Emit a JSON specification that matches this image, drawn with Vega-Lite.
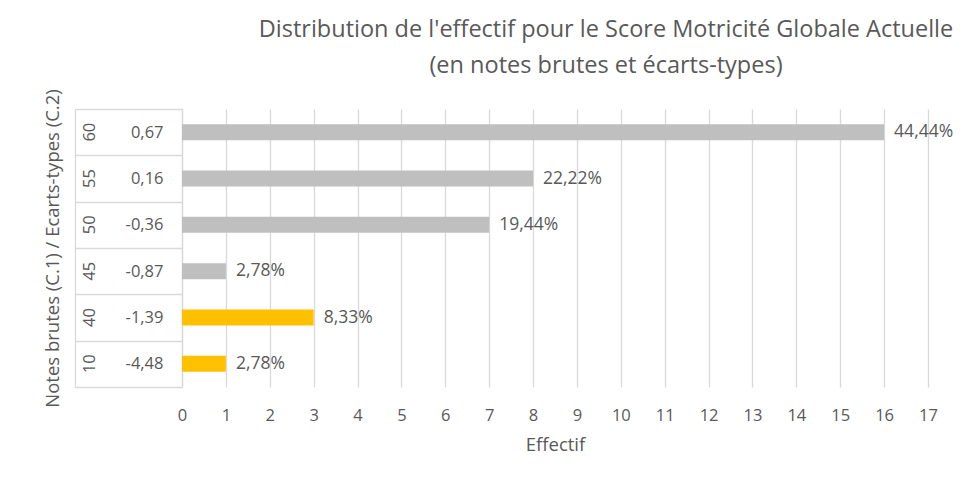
{
  "$schema": "https://vega.github.io/schema/vega-lite/v6.json",
  "width": 746,
  "height": 278,
  "autosize": {"type": "none"},
  "padding": {"left": 182, "top": 109, "right": 32, "bottom": 108},
  "background": "white",
  "title": {
    "text": ["Distribution de l'effectif pour le Score Motricité Globale Actuelle", "(en notes brutes et écarts-types)"],
    "fontSize": 23.5,
    "font": "Open Sans",
    "fontWeight": "normal",
    "color": "#595959",
    "anchor": "middle",
    "dx": 51,
    "offset": 11,
    "lineHeight": 36
  },
  "data": {
    "values": [
      {"note": "60", "ecart": "0,67", "effectif": 16, "pct": "44,44%", "groupe": "normal"},
      {"note": "55", "ecart": "0,16", "effectif": 8, "pct": "22,22%", "groupe": "normal"},
      {"note": "50", "ecart": "-0,36", "effectif": 7, "pct": "19,44%", "groupe": "normal"},
      {"note": "45", "ecart": "-0,87", "effectif": 1, "pct": "2,78%", "groupe": "normal"},
      {"note": "40", "ecart": "-1,39", "effectif": 3, "pct": "8,33%", "groupe": "faible"},
      {"note": "10", "ecart": "-4,48", "effectif": 1, "pct": "2,78%", "groupe": "faible"}
    ]
  },
  "layer": [
    {
      "mark": {"type": "bar", "height": {"band": 0.345}},
      "encoding": {
        "y": {
          "field": "note",
          "type": "nominal",
          "sort": ["60", "55", "50", "45", "40", "10"],
          "scale": {"paddingInner": 0, "paddingOuter": 0},
          "axis": {
            "orient": "left",
            "offset": 107,
            "title": "Notes brutes (C.1) / Ecarts-types (C.2)",
            "titleFont": "Open Sans",
            "titleFontSize": 18.5,
            "titleFontWeight": "normal",
            "titleColor": "#595959",
            "titleX": -23,
            "titleY": 139,
            "titleAngle": 270,
            "titleAlign": "center",
            "titleBaseline": "middle",
            "domain": true,
            "domainColor": "#D9D9D9",
            "domainWidth": 1.3,
            "ticks": false,
            "tickSize": 0,
            "grid": false,
            "labelAngle": 270,
            "labelAlign": "center",
            "labelBaseline": "middle",
            "labelPadding": -14,
            "labelFont": "Open Sans",
            "labelFontSize": 16.5,
            "labelColor": "#595959"
          }
        },
        "x": {
          "field": "effectif",
          "type": "quantitative",
          "scale": {"domain": [0, 17], "nice": false},
          "axis": {
            "title": "Effectif",
            "titleFont": "Open Sans",
            "titleFontSize": 18.5,
            "titleFontWeight": "normal",
            "titleColor": "#595959",
            "titlePadding": 12,
            "grid": true,
            "gridColor": "#D9D9D9",
            "gridWidth": 1.3,
            "domain": false,
            "ticks": false,
            "tickSize": 0,
            "labelPadding": 20,
            "labelFont": "Open Sans",
            "labelFontSize": 16.5,
            "labelColor": "#595959",
            "labelFlush": false,
            "values": [0, 1, 2, 3, 4, 5, 6, 7, 8, 9, 10, 11, 12, 13, 14, 15, 16, 17]
          }
        },
        "color": {
          "field": "groupe",
          "type": "nominal",
          "scale": {"domain": ["normal", "faible"], "range": ["#BFBFBF", "#FFC000"]},
          "legend": null
        }
      }
    },
    {
      "mark": {"type": "text", "align": "left", "baseline": "middle", "dx": 10, "font": "Open Sans", "fontSize": 17.5, "color": "#595959"},
      "encoding": {
        "y": {
          "field": "ecart",
          "type": "nominal",
          "sort": ["0,67", "0,16", "-0,36", "-0,87", "-1,39", "-4,48"],
          "scale": {"paddingInner": 0, "paddingOuter": 0},
          "axis": {
            "orient": "left",
            "offset": 0,
            "title": null,
            "domain": true,
            "domainColor": "#D9D9D9",
            "domainWidth": 1.3,
            "ticks": true,
            "tickBand": "extent",
            "tickSize": 107,
            "tickColor": "#D9D9D9",
            "tickWidth": 1.3,
            "grid": false,
            "labelAlign": "right",
            "labelBaseline": "middle",
            "labelPadding": -88,
            "labelFont": "Open Sans",
            "labelFontSize": 16.5,
            "labelColor": "#595959"
          }
        },
        "x": {"field": "effectif", "type": "quantitative"},
        "text": {"field": "pct"}
      }
    }
  ],
  "resolve": {"scale": {"y": "independent"}},
  "config": {"view": {"stroke": null}, "font": "Open Sans"}
}
